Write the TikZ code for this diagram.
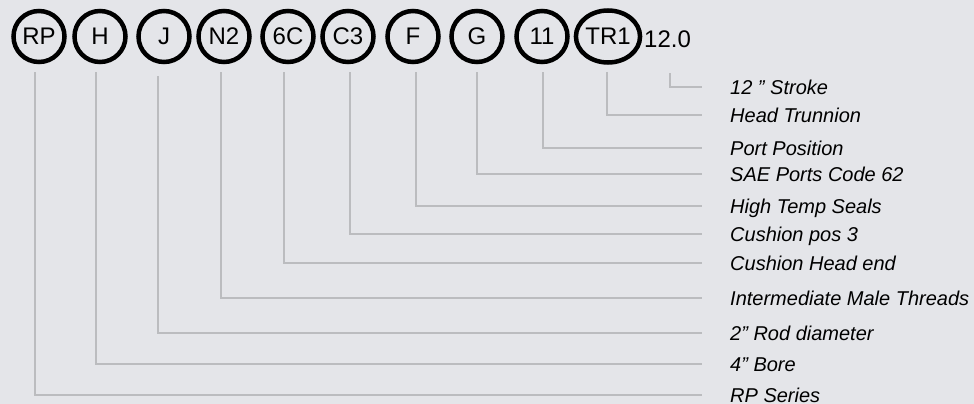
\documentclass[tikz,border=0pt]{standalone}
\usepackage{fontspec}
\setmainfont{Liberation Sans}
\definecolor{bg}{HTML}{E4E5E9}
\definecolor{leadgray}{HTML}{BBBCBF}
\usetikzlibrary{shapes.geometric}
\tikzset{
  code_ring/.style={draw=black,circle,line width=4.5pt,minimum size=51pt,inner sep=0pt,
    font=\fontsize{24}{24}\selectfont},
  code_oval/.style={code_ring,ellipse,minimum width=63pt,minimum height=52pt},
  len_txt/.style={anchor=base west,inner sep=0pt,font=\fontsize{24}{24}\selectfont},
  label_txt/.style={anchor=west,inner sep=0pt,text height=16pt,text depth=1.7pt,
    font=\fontsize{20}{20}\selectfont\itshape},
  lead/.style={draw=leadgray,line width=1.8pt,shorten >=28pt},
}
\begin{document}
\begin{tikzpicture}[x=1pt,y=-1pt]
  \fill[bg] (0,0) rectangle (974,404);
  \useasboundingbox (0,0) rectangle (974,404);

  \node[code_ring] (rp) at (39,36.5) {RP};
  \node[code_ring] (h) at (100,36.5) {H};
  \node[code_ring] (j) at (164,36.5) {J};
  \node[code_ring] (n2) at (224,36.5) {N2};
  \node[code_ring] (c6) at (288,36.5) {6C};
  \node[code_ring] (c3) at (348,36.5) {C3};
  \node[code_ring] (f) at (413,36.5) {F};
  \node[code_ring] (g) at (477,36.5) {G};
  \node[code_ring] (e11) at (542,36.5) {11};
  \node[code_oval] (tr1) at (608,36.5) {TR1};
  \node[len_txt] (len) at (644,48) {12.0};

  \node[label_txt] (l_len) at (730,87) {12 ” Stroke};
  \node[label_txt] (l_tr1) at (730,115) {Head Trunnion};
  \node[label_txt] (l_e11) at (730,148) {Port Position};
  \node[label_txt] (l_g) at (730,174) {SAE Ports Code 62};
  \node[label_txt] (l_f) at (730,206) {High Temp Seals};
  \node[label_txt] (l_c3) at (730,234) {Cushion pos 3};
  \node[label_txt] (l_c6) at (730,263) {Cushion Head end};
  \node[label_txt] (l_n2) at (730,298) {Intermediate Male Threads};
  \node[label_txt] (l_j) at (730,333) {2” Rod diameter};
  \node[label_txt] (l_h) at (730,364) {4” Bore};
  \node[label_txt] (l_rp) at (730,395) {RP Series};

  \draw[lead] ([xshift=2.6pt,yshift=-25pt]len.south) |- (l_len.west);
  \draw[lead] ([xshift=-1pt,yshift=-7pt]tr1.south) |- (l_tr1.west);
  \draw[lead] ([xshift=1pt,yshift=-8pt]e11.south) |- (l_e11.west);
  \draw[lead] ([yshift=-8pt]g.south) |- (l_g.west);
  \draw[lead] ([xshift=3pt,yshift=-8pt]f.south) |- (l_f.west);
  \draw[lead] ([xshift=2pt,yshift=-8pt]c3.south) |- (l_c3.west);
  \draw[lead] ([xshift=-4pt,yshift=-8pt]c6.south) |- (l_c6.west);
  \draw[lead] ([xshift=-3pt,yshift=-8pt]n2.south) |- (l_n2.west);
  \draw[lead] ([xshift=-6pt,yshift=-12pt]j.south) |- (l_j.west);
  \draw[lead] ([xshift=-4pt,yshift=-8pt]h.south) |- (l_h.west);
  \draw[lead] ([xshift=-4pt,yshift=-8pt]rp.south) |- (l_rp.west);
\end{tikzpicture}
\end{document}
